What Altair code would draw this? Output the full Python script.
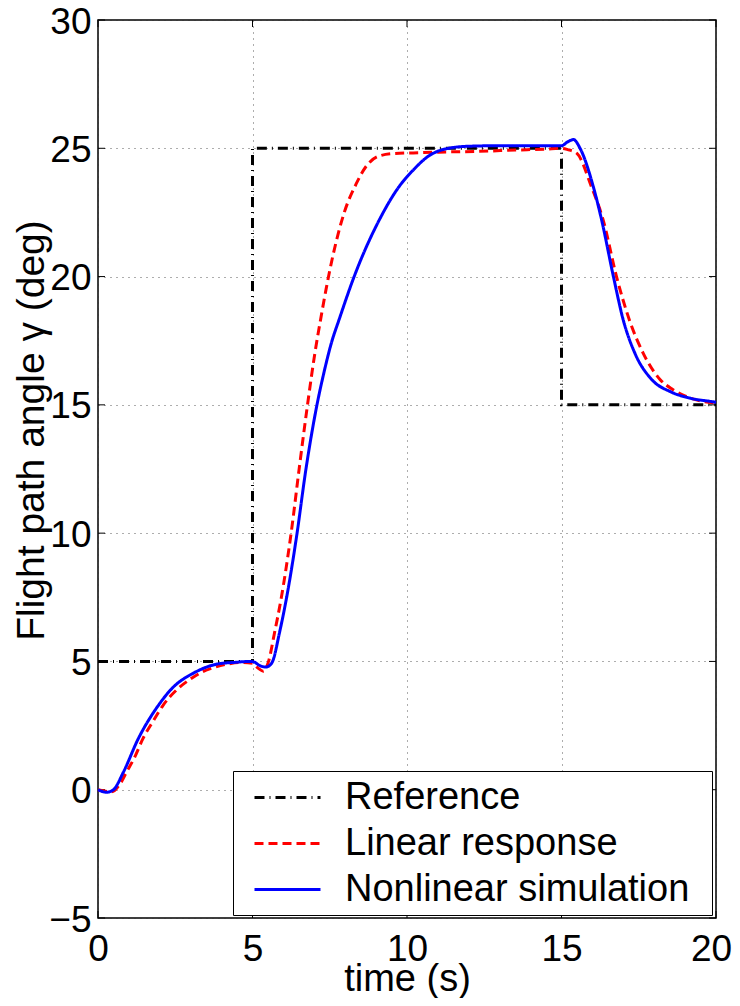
import altair as alt
import pandas as pd

# ---------------- data ----------------
series_names = ["Reference", "Linear response", "Nonlinear simulation"]

ref_t = [0, 5, 5, 15, 15, 20]
ref_v = [5, 5, 25, 25, 15, 15]

lin_t = [0, 0.2, 0.45, 0.7, 0.92, 1.2, 1.45, 1.8, 2.1, 2.58, 3.0, 3.34, 3.8, 4.2, 4.6,
         5.0, 5.2, 5.35, 5.52, 5.71, 5.92, 6.25, 6.52, 6.78, 7.03, 7.2, 7.38, 7.6, 7.97,
         8.35, 8.68, 9.1, 9.6, 10.2, 11.0, 12.3, 13.5, 14.5, 15.0, 15.2, 15.5, 15.97,
         16.35, 16.78, 17.2, 17.65, 18.18, 18.6, 18.99, 19.5, 20.0]
lin_v = [0, -0.05, -0.08, 0.2, 0.68, 1.3, 1.98, 2.7, 3.28, 3.93, 4.32, 4.57, 4.78, 4.9, 4.96,
         4.93, 4.72, 4.62, 5.0, 6.1, 7.4, 10.0, 12.6, 15.0, 17.1, 18.3, 19.5, 20.8, 22.5,
         23.6, 24.3, 24.7, 24.8, 24.82, 24.85, 24.88, 24.93, 24.97, 25.0, 24.95, 24.8, 23.5,
         22.2, 20.0, 18.3, 17.0, 16.0, 15.6, 15.35, 15.15, 15.08]

non_t = [0, 0.28, 0.5, 0.82, 1.3, 1.95, 2.38, 3.13, 3.87, 4.5, 4.9, 5.05, 5.2, 5.44, 5.55,
         5.65, 5.87, 6.09, 6.43, 6.73, 7.07, 7.32, 7.55, 7.81, 8.29, 9.1, 9.74, 10.2, 10.7,
         11.35, 12.0, 13.0, 14.0, 15.0, 15.2, 15.39, 15.6, 16.03, 16.3, 16.68, 17.0, 17.38,
         17.91, 18.55, 19.2, 19.9, 20.0]
non_v = [0, -0.1, 0.0, 0.68, 1.98, 3.28, 3.93, 4.57, 4.9, 4.97, 5.0, 4.98, 4.86, 4.78, 4.84,
         5.0, 6.1, 7.4, 9.9, 12.5, 14.9, 16.3, 17.4, 18.35, 20.0, 22.2, 23.5, 24.15, 24.7,
         25.0, 25.08, 25.1, 25.1, 25.1, 25.25, 25.34, 25.0, 23.5, 22.2, 20.0, 18.3, 17.0,
         16.0, 15.5, 15.25, 15.12, 15.1]

x_ticks = [0, 5, 10, 15, 20]
y_ticks = [-5, 0, 5, 10, 15, 20, 25, 30]

# ---------------- tables ----------------
def frame(ts, vs, name):
    return pd.DataFrame({"t": ts, "v": vs, "series": name, "i": range(len(ts))})

ref_df = frame(ref_t, ref_v, series_names[0])
lin_df = frame(lin_t, lin_v, series_names[1])
non_df = frame(non_t, non_v, series_names[2])
xt_df = pd.DataFrame({"t": x_ticks})
yt_df = pd.DataFrame({"v": y_ticks})

W, H = 618, 898
FONT = "Liberation Sans"

x_enc = alt.X("t:Q", scale=alt.Scale(domain=[0, 20], nice=False, zero=False),
              axis=alt.Axis(values=x_ticks, title="time (s)", labelFlush=False,
                            labelOverlap=False,
                            labelOffset={"condition": {"test": "datum.value == 20", "value": -5},
                                         "value": 0},
                            labelPadding=42, labelBaseline="alphabetic",
                            titleY=72, titleBaseline="alphabetic"))
y_enc = alt.Y("v:Q", scale=alt.Scale(domain=[-5, 30], nice=False, zero=False),
              axis=alt.Axis(values=y_ticks, title="Flight path angle γ (deg)",
                            labelPadding=7, labelFlush=False, labelOverlap=False,
                            labelOffset=2,
                            titleX=-55, titleY=410, titleAngle=270,
                            titleBaseline="alphabetic", titleFontSize=39))

legend_cfg = dict(title="\u00a0", titleOrient="right", titlePadding=17, titleFontSize=8,
                  orient="none", legendX=135, legendY=751,
                  padding=6, symbolOffset=28, labelOffset=37,
                  rowPadding=6, symbolSize=1444, symbolStrokeWidth=3,
                  symbolType="M-1.737,0H1.737", labelLimit=500,
                  labelFontSize=38, labelFont=FONT, labelColor="black",
                  strokeColor="black", fillColor="white")

color_enc = alt.Color("series:N",
                      scale=alt.Scale(domain=series_names, range=["black", "#ff0000", "#0000ff"]),
                      legend=alt.Legend(**legend_cfg))
dash_enc = alt.StrokeDash("series:N",
                          scale=alt.Scale(domain=series_names,
                                          range=[[10, 5, 1, 5], [9, 5], [1, 0]]),
                          legend=alt.Legend(**legend_cfg))

ref_layer = alt.Chart(ref_df).mark_line(strokeWidth=3, interpolate="linear").encode(
    x=x_enc, y=y_enc, color=color_enc, strokeDash=dash_enc, order="i:Q")
lin_layer = alt.Chart(lin_df).mark_line(strokeWidth=3, interpolate="monotone").encode(
    x=x_enc, y=y_enc, color=color_enc, strokeDash=dash_enc, order="i:Q")
non_layer = alt.Chart(non_df).mark_line(strokeWidth=3, interpolate="monotone").encode(
    x=x_enc, y=y_enc, color=color_enc, strokeDash=dash_enc, order="i:Q")

tick_len = 7
xt_bottom = alt.Chart(xt_df).mark_rule(color="black", strokeWidth=1).encode(
    x=x_enc, y=alt.value(H), y2=alt.value(H - tick_len))
xt_top = alt.Chart(xt_df).mark_rule(color="black", strokeWidth=1).encode(
    x=x_enc, y=alt.value(0), y2=alt.value(tick_len))
yt_left = alt.Chart(yt_df).mark_rule(color="black", strokeWidth=1).encode(
    y=y_enc, x=alt.value(0), x2=alt.value(tick_len))
yt_right = alt.Chart(yt_df).mark_rule(color="black", strokeWidth=1).encode(
    y=y_enc, x=alt.value(W), x2=alt.value(W - tick_len))

chart = alt.layer(
    xt_bottom, xt_top, yt_left, yt_right, ref_layer, lin_layer, non_layer
).properties(
    width=W, height=H,
    autosize=alt.AutoSizeParams(type="none"),
    padding={"left": 90, "top": 12, "right": 16, "bottom": 80},
    background="white",
).configure_view(
    stroke="black", strokeWidth=1.5
).configure_axis(
    grid=True, gridColor="#333333", gridDash=[1, 5], gridWidth=1, gridOpacity=0.8,
    domain=False, ticks=False,
    labelFont=FONT, labelFontSize=37, labelColor="black",
    titleFont=FONT, titleFontSize=38, titleColor="black", titleFontWeight="normal",
)

chart.save("out.html", embed_options={"renderer": "svg", "actions": False})
